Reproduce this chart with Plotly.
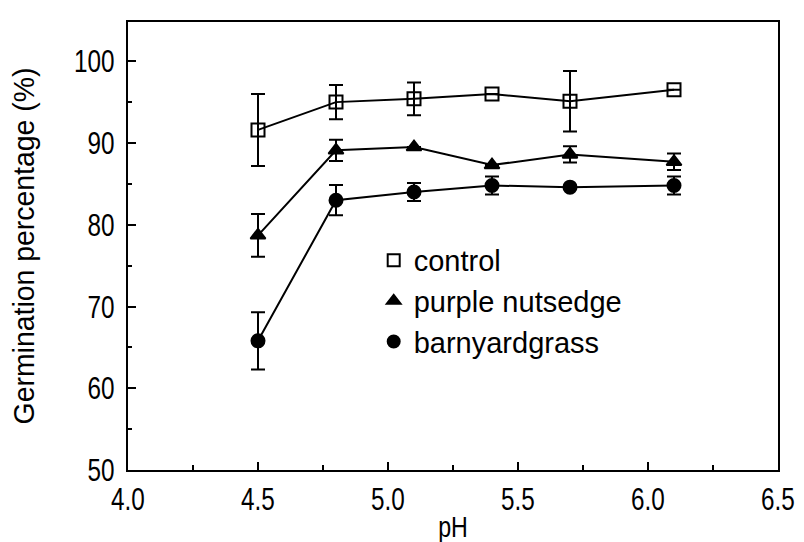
import plotly.graph_objects as go

ph = [4.5, 4.8, 5.1, 5.4, 5.7, 6.1]

control = [91.6, 95.0, 95.4, 96.0, 95.1, 96.5]
control_err = [4.4, 2.1, 2.0, 0.0, 3.7, 0.0]

nutsedge = [78.7, 89.1, 89.5, 87.3, 88.6, 87.7]
nutsedge_err = [2.6, 1.3, 0.0, 0.0, 1.0, 1.0]

barnyard = [65.8, 83.0, 84.0, 84.8, 84.6, 84.8]
barnyard_err = [3.5, 1.85, 1.1, 1.1, 0.0, 1.1]

names = ["control", "purple nutsedge", "barnyardgrass"]
x_ticks = [4.0, 4.5, 5.0, 5.5, 6.0, 6.5]
y_ticks = [50, 60, 70, 80, 90, 100]

FONT = "Liberation Sans Narrow, Arial Narrow, Liberation Sans, sans-serif"

fig = go.Figure()
series = [
    (control, control_err, "square-open"),
    (nutsedge, nutsedge_err, "triangle-up"),
    (barnyard, barnyard_err, "circle"),
]
for (vals, errs, sym), name in zip(series, names):
    fig.add_trace(go.Scatter(
        x=ph, y=vals, name=name, mode="lines+markers", showlegend=False,
        line=dict(color="black", width=2),
        marker=dict(symbol=sym, size=13, color="black",
                    line=dict(color="black", width=2)),
        error_y=dict(type="data", array=errs, visible=True,
                     color="black", thickness=2, width=7),
    ))
# legend entries show markers only (no line), as in the reference
for (vals, errs, sym), name in zip(series, names):
    fig.add_trace(go.Scatter(
        x=[None], y=[None], name=name, mode="markers",
        marker=dict(symbol=sym, size=12, color="black",
                    line=dict(color="black", width=2)),
    ))

fig.update_layout(
    width=804, height=542,
    margin=dict(l=120, r=16, t=14, b=79),
    paper_bgcolor="white", plot_bgcolor="white",
    font=dict(family=FONT, color="black", size=28),
    showlegend=True,
    legend=dict(x=0.378, y=0.525, xanchor="left", yanchor="top",
                bgcolor="rgba(0,0,0,0)", font=dict(size=29),
                tracegroupgap=0, itemwidth=30),
)
fig.update_xaxes(
    range=[4.0, 6.5], tickvals=x_ticks,
    ticktext=[f"{v:.1f}" for v in x_ticks],
    ticks="inside", ticklen=8, tickwidth=2, tickcolor="black",
    minor=dict(dtick=0.25, ticks="inside", ticklen=5, tickwidth=2, tickcolor="black"),
    showline=True, linewidth=2, linecolor="black", mirror=True,
    showgrid=False, zeroline=False, ticklabeloverflow="allow",
    tickfont=dict(size=32),
    title=dict(text="pH", font=dict(size=29), standoff=0),
)
fig.update_yaxes(
    range=[50, 104.8], tickvals=y_ticks,
    ticks="inside", ticklen=8, tickwidth=2, tickcolor="black",
    minor=dict(dtick=5, ticks="inside", ticklen=4, tickwidth=2, tickcolor="black"),
    showline=True, linewidth=2, linecolor="black", mirror=True,
    showgrid=False, zeroline=False, ticklabeloverflow="allow",
    ticklabelstandoff=5,
    tickfont=dict(size=32),
    title=dict(text="Germination percentage (%)", font=dict(size=29), standoff=0),
)

# The reference uses a condensed typeface; no condensed face is installed,
# so the text is narrowed horizontally around its own anchor point.
post = """
(function(){
  var gd = document.getElementById('{plot_id}');
  var rules = [
    ['g.xtick text', 0.76, 0], ['g.ytick text', 0.76, 0],
    ['text.xtitle', 0.8, 0], ['text.ytitle', 0.98, -18]
  ];
  function squeeze(){
    rules.forEach(function(r){
      gd.querySelectorAll(r[0]).forEach(function(el){
        var cur = el.getAttribute('transform') || '';
        if (el.__sq !== undefined && cur === el.__sq) return;
        var x = parseFloat(el.getAttribute('x')) || 0;
        var y = parseFloat(el.getAttribute('y')) || 0;
        var t = 'translate(' + r[2] + ',0) ' + cur + ' translate(' + x + ',' + y + ') scale(' + r[1] + ',1) translate(' + (-x) + ',' + (-y) + ')';
        el.setAttribute('transform', t);
        el.__sq = t;
      });
    });
  }
  squeeze();
  if (gd.on) gd.on('plotly_afterplot', squeeze);
  setTimeout(squeeze, 50);
  setTimeout(squeeze, 300);
})();
"""

fig.write_html("out.html", post_script=post)
